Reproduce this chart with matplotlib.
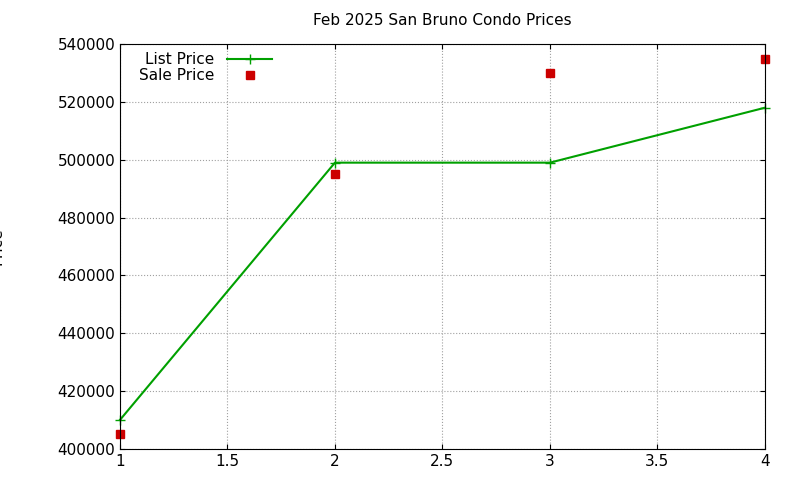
import matplotlib
matplotlib.use("Agg")
import matplotlib.pyplot as plt

months = [1, 2, 3, 4]
list_price = [410000, 499000, 499000, 518000]
sale_price = [405000, 495000, 530000, 535000]

fig = plt.figure(figsize=(8, 4.8), dpi=100)
ax = fig.add_axes([0.15, 0.065, 0.806, 0.843])

ax.plot(months, list_price, color='#00a000', linewidth=1.5, marker='+', markersize=7,
        label='List Price', clip_on=False)
ax.plot(months, sale_price, linestyle='none', color='#cc0000', marker='s', markersize=6,
        label='Sale Price', clip_on=False)

ax.set_xlim(1, 4)
ax.set_ylim(400000, 540000)
ax.set_xticks([1, 1.5, 2, 2.5, 3, 3.5, 4])
ax.set_xticklabels(['1', '1.5', '2', '2.5', '3', '3.5', '4'])
ax.set_yticks(range(400000, 540001, 20000))
ax.grid(True, color='#a0a0a0', linestyle=':', linewidth=0.8)
ax.tick_params(direction='in', labelsize=11, top=True, right=True)
ax.set_ylabel('Price', fontsize=11, labelpad=38)
ax.set_title('Feb 2025 San Bruno Condo Prices', fontsize=11, pad=14)
ax.legend(loc='upper left', bbox_to_anchor=(0.02, 0.995), frameon=False, markerfirst=False,
          fontsize=11, handlelength=3, labelspacing=0.05, borderaxespad=0)

fig.savefig('out.png', dpi=100)
